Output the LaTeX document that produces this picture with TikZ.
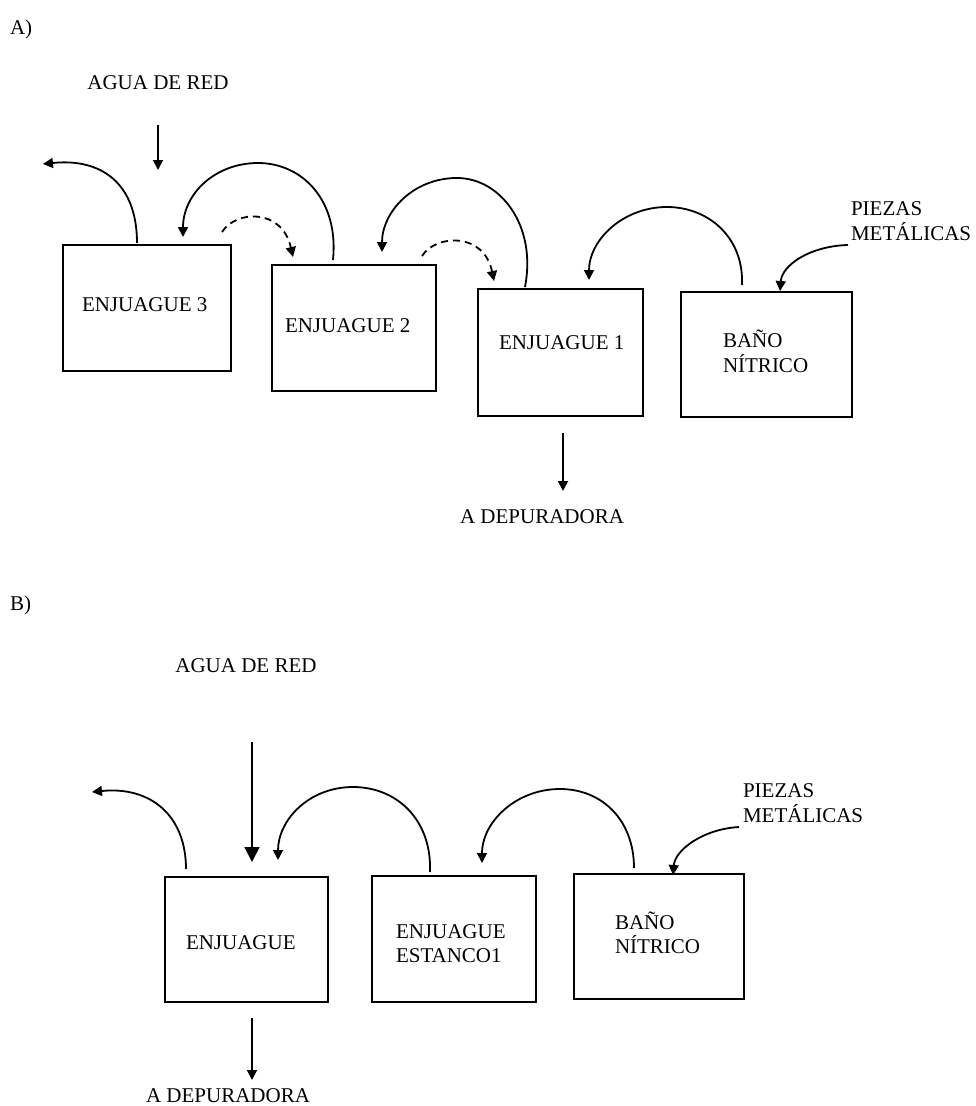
\documentclass[tikz,border=0pt]{standalone}
\usepackage{fontspec}
\setmainfont{Liberation Serif}
\usetikzlibrary{arrows.meta}

\begin{document}
\begin{tikzpicture}[x=1pt,y=-1pt,
  every node/.style={font=\fontsize{21pt}{25pt}\selectfont, inner sep=0pt, outer sep=0pt},
  tank/.style={draw, line width=2.2pt, rectangle},
  txt/.style={anchor=base west},
  ctxt/.style={anchor=base},
  flow/.style={line width=1.8pt, -{Triangle[length=10pt,width=10pt]}},
  feed/.style={line width=1.8pt, -{Triangle[length=15pt,width=15pt]}},
  seep/.style={flow, dash pattern=on 7pt off 5pt}]

\path[use as bounding box] (0,0) rectangle (975,1106);

% ---------------- A) three counter-current rinses ----------------
\node[txt] (labA) at (10,34) {A)};
\node[ctxt] (redA) at (158,89) {AGUA DE RED};

\node[tank, minimum width=168pt, minimum height=126pt] (e3) at (147,308) {};
\node[tank, minimum width=164pt, minimum height=126pt] (e2) at (354,328) {};
\node[tank, minimum width=165pt, minimum height=127pt] (e1) at (560.5,352.5) {};
\node[tank, minimum width=171pt, minimum height=125pt] (bnA) at (766.5,354.5) {};

\node[txt] (e3t) at (82,311) {ENJUAGUE 3};
\node[txt] (e2t) at (285,332) {ENJUAGUE 2};
\node[txt] (e1t) at (499,349) {ENJUAGUE 1};
\node[txt] (bnAt1) at (723,347) {BAÑO};
\node[txt] (bnAt2) at (723,372) {NÍTRICO};

\node[txt] (pzA1) at (851,215) {PIEZAS};
\node[txt] (pzA2) at (851,240) {METÁLICAS};
\node[ctxt] (depA) at (542,523) {A DEPURADORA};

% connector ends
\coordinate (redAs) at (158,125);  \coordinate (redAe) at (158,170);
\coordinate (e3o) at (137,243);    \coordinate (e3x) at (43,164);
\coordinate (e2o) at (333,260);    \coordinate (e3i) at (183,237);
\coordinate (e3d) at (222,232);    \coordinate (e2i) at (293,257);
\coordinate (e1o) at (525,287);    \coordinate (e2j) at (382,252);
\coordinate (e2d) at (422,256);    \coordinate (e1i) at (494,281);
\coordinate (bnAo) at (742,285);   \coordinate (e1j) at (589,280);
\coordinate (pzAo) at (848,245);   \coordinate (bnAi) at (780,291);
\coordinate (e1b) at (563,433);    \coordinate (depAi) at (563,491);

\draw[flow] (redAs) -- (redAe);
\draw[flow] (e3o) .. controls (137,182) and (100,158) .. (e3x);
\draw[flow] (e2o) .. controls (339,200) and (302,163) .. (258,163)
                  .. controls (215,163) and (183,194) .. (e3i);
\draw[seep] (e3d) .. controls (236,210) and (282,208) .. (e2i);
\draw[flow] (e1o) .. controls (537,225) and (500,178) .. (457,178)
                  .. controls (413,178) and (382,212) .. (e2j);
\draw[seep] (e2d) .. controls (436,234) and (484,232) .. (e1i);
\draw[flow] (bnAo) .. controls (744,237) and (708,207) .. (667,207)
                   .. controls (623,207) and (589,240) .. (e1j);
\draw[flow] (pzAo) .. controls (810,246) and (782,265) .. (bnAi);
\draw[flow] (e1b) -- (depAi);

% ---------------- B) rinse with a static rinse tank ----------------
\node[txt] (labB) at (10,610) {B)};
\node[ctxt] (redB) at (246,672) {AGUA DE RED};

\node[tank, minimum width=163pt, minimum height=125pt] (en) at (246.5,939.5) {};
\node[tank, minimum width=164pt, minimum height=126pt] (es) at (454,939) {};
\node[tank, minimum width=170pt, minimum height=125pt] (bnB) at (659,936.5) {};

\node[txt] (ent) at (186,949) {ENJUAGUE};
\node[txt] (est1) at (396,938) {ENJUAGUE};
\node[txt] (est2) at (396,962) {ESTANCO1};
\node[txt] (bnBt1) at (615,929) {BAÑO};
\node[txt] (bnBt2) at (615,953) {NÍTRICO};

\node[txt] (pzB1) at (743,797) {PIEZAS};
\node[txt] (pzB2) at (743,822) {METÁLICAS};
\node[ctxt] (depB) at (228,1102) {A DEPURADORA};

\coordinate (redBs) at (252,742);  \coordinate (redBe) at (252,862);
\coordinate (eno) at (186,869);    \coordinate (enx) at (92,792);
\coordinate (eso) at (430,872);    \coordinate (eni) at (278,860);
\coordinate (bnBo) at (634,868);   \coordinate (esi) at (482,863);
\coordinate (pzBo) at (739,827);   \coordinate (bnBi) at (673,875);
\coordinate (enb) at (252,1018);   \coordinate (depBi) at (252,1080);

\draw[feed] (redBs) -- (redBe);
\draw[flow] (eno) .. controls (186,815) and (150,786) .. (enx);
\draw[flow] (eso) .. controls (432,820) and (397,787) .. (353,787)
                  .. controls (309,787) and (278,820) .. (eni);
\draw[flow] (bnBo) .. controls (634,820) and (602,789) .. (560,789)
                   .. controls (516,789) and (482,822) .. (esi);
\draw[flow] (pzBo) .. controls (703,829) and (675,850) .. (bnBi);
\draw[flow] (enb) -- (depBi);

\end{tikzpicture}
\end{document}
